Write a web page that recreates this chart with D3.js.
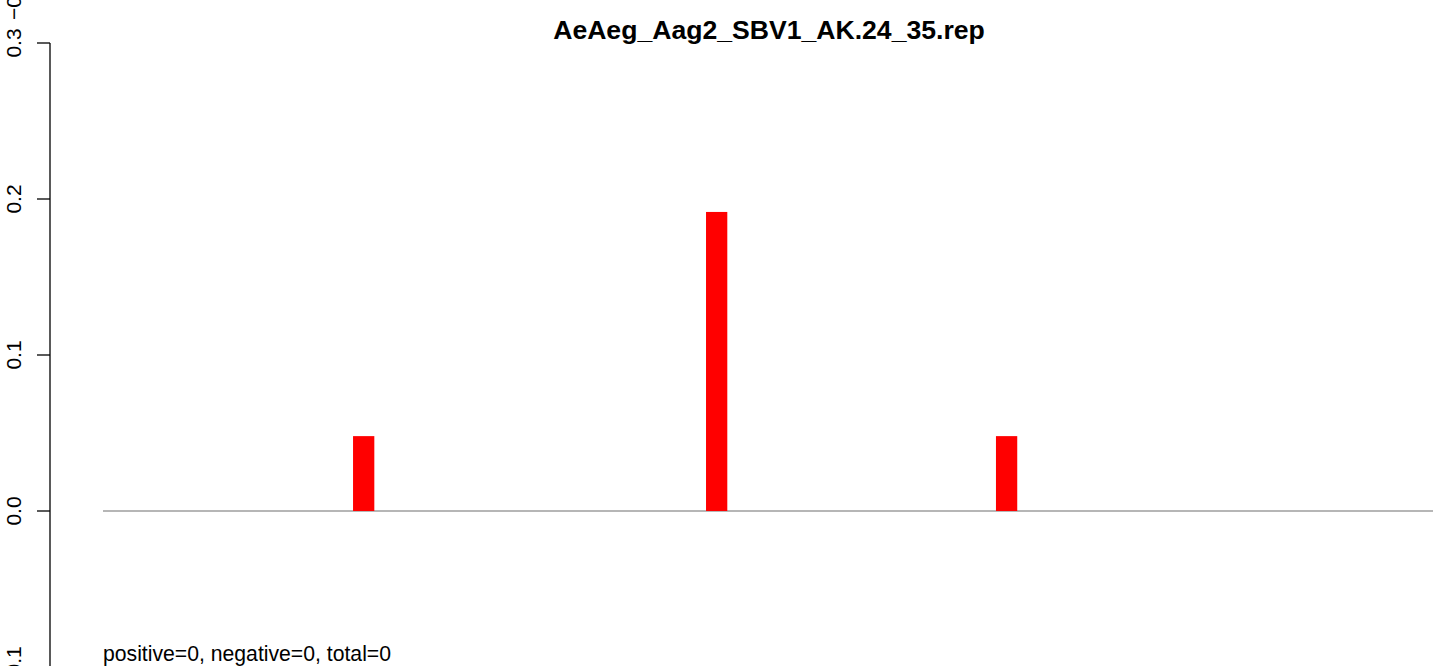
<!DOCTYPE html>
<html><head><meta charset="utf-8">
<script src="https://cdn.jsdelivr.net/npm/d3@7"></script>
<style>html,body{margin:0;padding:0;background:#fff;}svg{display:block;font-family:"Liberation Sans",Arial,Helvetica,sans-serif;}</style>
</head><body>
<script>
// Data
const positions = [9.8, 23.07, 33.97];       // bar x positions (data units)
const values = [0.048, 0.1917, 0.048];        // bar heights
const yTicks = [-0.1, 0.0, 0.1, 0.2, 0.3];
const yTickLabels = ["-0.1", "0.0", "0.1", "0.2", "0.3"];
const xDomain = [0, 50];
const title = "AeAeg_Aag2_SBV1_AK.24_35.rep";
const footer = "positive=0, negative=0, total=0";
const barWidth = 0.8;

const W = 1439, H = 666;
const svg = d3.select("body").append("svg").attr("width", W).attr("height", H);

const x = d3.scaleLinear().domain(xDomain).range([103, 1433]);
const y = d3.scaleLinear().domain([0, 0.3]).range([511, 43]);

// baseline
svg.append("line")
  .attr("x1", x(xDomain[0])).attr("x2", x(xDomain[1]))
  .attr("y1", y(0)).attr("y2", y(0))
  .attr("stroke", "#9e9e9e").attr("stroke-width", 1.5);

// bars
svg.selectAll("rect.bar").data(positions).join("rect")
  .attr("class", "bar")
  .attr("x", (d) => x(d - barWidth / 2))
  .attr("width", x(barWidth) - x(0))
  .attr("y", (d, i) => y(values[i]))
  .attr("height", (d, i) => y(0) - y(values[i]))
  .attr("fill", "#ff0000");

// y axis
const axis = svg.append("g").attr("transform", "translate(50,0)");
axis.append("line").attr("x1", 0).attr("x2", 0)
  .attr("y1", y(0.3)).attr("y2", y(-0.1) + 5)
  .attr("stroke", "#000").attr("stroke-width", 1.3);
axis.selectAll("line.tick").data(yTicks).join("line")
  .attr("class", "tick")
  .attr("x1", -13).attr("x2", 0)
  .attr("y1", (d) => y(d)).attr("y2", (d) => y(d))
  .attr("stroke", "#000").attr("stroke-width", 1.3);
svg.selectAll("text.ylab").data(yTicks).join("text")
  .attr("class", "ylab")
  .attr("transform", (d) => `translate(21,${y(d)}) rotate(-90)`)
  .attr("text-anchor", "middle")
  .attr("font-size", 21)
  .text((d, i) => yTickLabels[i].replace("-", "\u2212"));

// partially visible label from a panel above
svg.append("text")
  .attr("transform", `translate(21,20) rotate(-90)`)
  .attr("text-anchor", "start")
  .attr("font-size", 21)
  .text("\u22120.1");

// title
svg.append("text")
  .attr("x", 769).attr("y", 39)
  .attr("text-anchor", "middle")
  .attr("font-size", 26.6).attr("font-weight", "bold")
  .text(title);

// footer
svg.append("text")
  .attr("x", 103).attr("y", 661)
  .attr("font-size", 21.2)
  .text(footer);
</script>
</body></html>
